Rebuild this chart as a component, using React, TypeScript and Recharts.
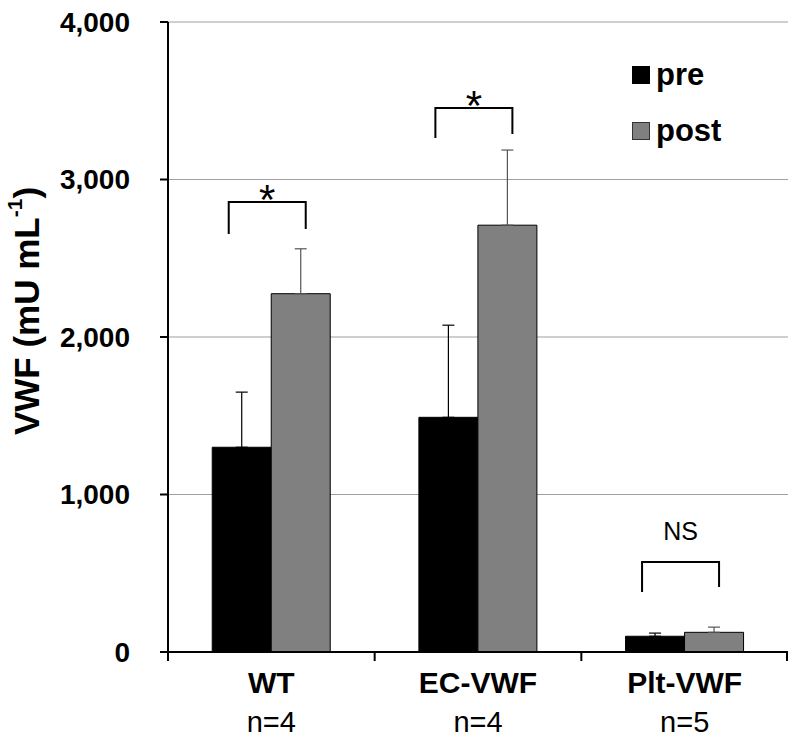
import React from 'react';
import { BarChart, Bar, XAxis, YAxis, CartesianGrid, ErrorBar } from 'recharts';

const groups = ['WT', 'EC-VWF', 'Plt-VWF'];
const groupN = ['n=4', 'n=4', 'n=5'];
const preMean = [1300, 1490, 100];
const preSem = [350, 585, 20];
const postMean = [2275, 2710, 125];
const postSem = [285, 477, 33];
// significance brackets (in VWF units)
const bracketTop = [2857, 3454, 571];
const bracketLeftEnd = [2654, 3263, 381];
const bracketRightEnd = [2686, 3289, 413];
const bracketMark = ['*', '*', 'NS'];
const yTicks = [0, 1000, 2000, 3000, 4000];
const seriesNames = ['pre', 'post'];
const seriesColors = ['#000000', '#808080'];

const FONT = '"Liberation Sans", Arial, sans-serif';

const data = groups.map((g, i) => ({
  group: g,
  n: groupN[i],
  pre: preMean[i],
  post: postMean[i],
  preErr: [0, preSem[i]],
  postErr: [0, postSem[i]],
}));

const GroupTick = (props: any) => {
  const { x, y, payload, index, width } = props;
  const cw = width / groups.length;
  const axisY = y - 8;
  return (
    <g>
      <line x1={x - cw / 2} x2={x - cw / 2} y1={axisY - 1} y2={axisY + 9} stroke="#000" strokeWidth={2} />
      {index === groups.length - 1 && (
        <line x1={x + cw / 2 - 1} x2={x + cw / 2 - 1} y1={axisY - 1} y2={axisY + 9} stroke="#000" strokeWidth={2} />
      )}
      <text x={x} y={y} dy={33} textAnchor="middle" fontFamily={FONT} fontWeight="bold" fontSize={30} fill="#000">
        {payload.value}
      </text>
      <text x={x} y={y} dy={72} textAnchor="middle" fontFamily={FONT} fontSize={29} fill="#000">
        {groupN[index]}
      </text>
    </g>
  );
};

const Bracket = (props: any) => {
  const { x, y, width, height, value, index } = props;
  if (!value) return null;
  const k = height / value;
  const base = y + height;
  const toY = (v: number) => base - v * k;
  const left = x - width / 2 - 13;
  const right = x + width / 2 + 5;
  const top = toY(bracketTop[index]);
  const mark = bracketMark[index];
  const isStar = mark === '*';
  return (
    <g>
      <path
        d={`M${left},${toY(bracketLeftEnd[index])} L${left},${top} L${right},${top} L${right},${toY(bracketRightEnd[index])}`}
        fill="none"
        stroke="#000"
        strokeWidth={2}
      />
      <text
        x={(left + right) / 2}
        y={isStar ? top + 12 : top - 22}
        textAnchor="middle"
        fontFamily={FONT}
        fontSize={isStar ? 42 : 25}
        fill="#000"
      >
        {mark}
      </text>
    </g>
  );
};

const LegendBox = () => (
  <div
    style={{
      position: 'absolute',
      left: 632,
      top: 57,
      fontFamily: FONT,
      fontWeight: 'bold',
      fontSize: 31,
      color: '#000',
    }}
  >
    {seriesNames.map((s, i) => (
      <div key={s} style={{ display: 'flex', alignItems: 'center', height: 36, marginTop: i ? 20 : 0 }}>
        <span
          style={{
            width: 16,
            height: 16,
            background: seriesColors[i],
            border: `1px solid ${i ? '#333' : '#000'}`,
            marginRight: 6,
          }}
        />
        {s}
      </div>
    ))}
  </div>
);

export default function App() {
  return (
    <div style={{ position: 'absolute', left: 0, top: 0, width: 800, height: 751, background: '#fff' }}>
      <BarChart
        width={800}
        height={751}
        data={data}
        margin={{ top: 22, right: 12, left: 0, bottom: 0 }}
        barCategoryGap="21.4%"
        barGap={0}
      >
        <CartesianGrid vertical={false} stroke="#a0a0a0" strokeWidth={1.2} />
        <XAxis
          dataKey="group"
          height={99}
          axisLine={{ stroke: '#000', strokeWidth: 2 }}
          tickLine={false}
          tickSize={8}
          tickMargin={0}
          tick={<GroupTick />}
          interval={0}
        />
        <YAxis
          width={168}
          domain={[0, 4000]}
          ticks={yTicks}
          axisLine={{ stroke: '#000', strokeWidth: 2 }}
          tickLine={{ stroke: '#000', strokeWidth: 2 }}
          tickSize={8}
          tickMargin={30}
          tickFormatter={(v) => v.toLocaleString('en-US')}
          tick={{ fontFamily: FONT, fontWeight: 'bold', fontSize: 28, fill: '#000' }}
          label={() => (
            <text
              x={26}
              y={311}
              transform="rotate(-90 26 311)"
              textAnchor="middle"
              dominantBaseline="central"
              fontFamily={FONT}
              fontWeight="bold"
              fontSize={35}
              fill="#000"
            >
              VWF (mU mL
              <tspan dy={-12} fontSize={21}>-1</tspan>
              <tspan dy={12}>)</tspan>
            </text>
          )}
        />
        <Bar dataKey="pre" name="pre" fill="#000" stroke="#000" strokeWidth={1} isAnimationActive={false}>
          <ErrorBar dataKey="preErr" direction="y" width={6} stroke="#000" strokeWidth={1.2} />
        </Bar>
        <Bar
          dataKey="post"
          name="post"
          fill="#808080"
          stroke="#000"
          strokeWidth={1}
          isAnimationActive={false}
          label={(p: any) => <Bracket {...p} />}
        >
          <ErrorBar dataKey="postErr" direction="y" width={6} stroke="#555" strokeWidth={1.2} />
        </Bar>
      </BarChart>
      <LegendBox />
    </div>
  );
}
